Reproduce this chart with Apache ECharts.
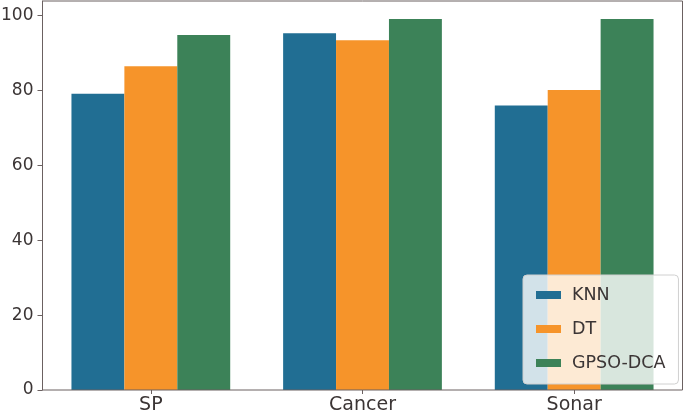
<!DOCTYPE html>
<html><head><meta charset="utf-8">
<script src="https://cdn.jsdelivr.net/npm/echarts@6/dist/echarts.min.js"></script>
<style>html,body{margin:0;padding:0;background:#fff}#c{width:685px;height:414px}</style>
</head><body><div id="c"></div>
<script>
const categories = ['SP', 'Cancer', 'Sonar'];
const knn = [79.1, 95.3, 76.0];
const dt = [86.5, 93.4, 80.1];
const gpso = [94.8, 99.1, 99.1];
const seriesNames = ['KNN', 'DT', 'GPSO-DCA'];
const colors = ['#216e93', '#f6942a', '#3c8258'];

const font = 'DejaVu Sans';
const axisColor = '#6b6161';
const textColor = '#3b3535';
const chart = echarts.init(document.getElementById('c'));
const mk = (name, data, color) => ({
  name, type: 'bar', data, barWidth: '25%', barGap: '0%',
  itemStyle: { color }, emphasis: { disabled: true }
});
chart.setOption({
  animation: false,
  grid: [
    { left: 45, right: 5, top: 1, bottom: 24, show: false, containLabel: false, outerBoundsMode: 'none' },
    { left: 42.5, right: 2.5, top: 1, bottom: 24, show: true, borderColor: axisColor, borderWidth: 1,
      backgroundColor: 'transparent', containLabel: false, outerBoundsMode: 'none', z: 3 }
  ],
  xAxis: [{
    type: 'category', data: categories, gridIndex: 0,
    axisLine: { show: false },
    axisTick: { show: true, alignWithLabel: true, length: 4, lineStyle: { color: axisColor } },
    axisLabel: { color: textColor, fontFamily: font, fontSize: 19, margin: 6 }
  }, { type: 'value', gridIndex: 1, show: false }],
  yAxis: [{
    type: 'value', min: 0, max: 103.9, interval: 20, gridIndex: 0, offset: 2.5,
    splitLine: { show: false },
    axisLine: { show: true, lineStyle: { color: axisColor } },
    axisTick: { show: true, length: 5, lineStyle: { color: axisColor } },
    axisLabel: { color: textColor, fontFamily: font, fontSize: 17, margin: 9, showMaxLabel: false,
      formatter: v => (v % 20 === 0 ? String(v) : '') }
  }, { type: 'value', gridIndex: 1, show: false }],
  legend: {
    data: seriesNames, orient: 'vertical', left: 523, top: 275,
    icon: 'rect', itemWidth: 25, itemHeight: 8, itemGap: 16,
    padding: [11, 13, 12, 13],
    backgroundColor: 'rgba(255,255,255,0.8)', borderColor: '#d0d0d0', borderWidth: 1, borderRadius: 4,
    textStyle: { color: textColor, fontFamily: font, fontSize: 17.5, lineHeight: 18, padding: [0, 0, 0, 6] }
  },
  series: [mk(seriesNames[0], knn, colors[0]), mk(seriesNames[1], dt, colors[1]), mk(seriesNames[2], gpso, colors[2])]
});
</script></body></html>
